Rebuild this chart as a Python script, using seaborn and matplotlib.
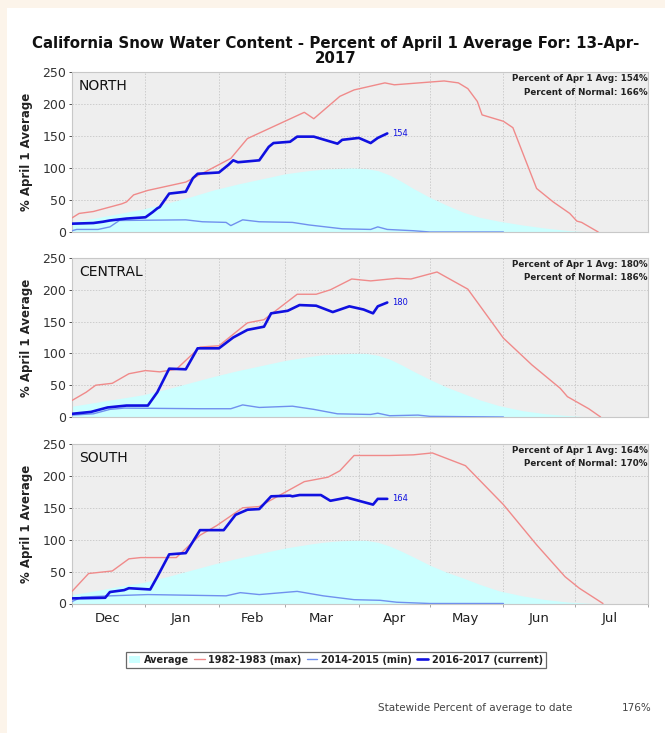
import matplotlib
matplotlib.use("Agg")
import matplotlib.pyplot as plt
from matplotlib.patches import Rectangle, Patch
from matplotlib.lines import Line2D
import pandas as pd
import seaborn as sns

# days counted from 1 Dec 2016, values in % of April 1 average
month_starts = [0, 31, 62, 90, 121, 151, 182, 212, 243]
month_mids = [15, 46, 76, 105, 136, 166, 197, 227]
month_names = ["Dec", "Jan", "Feb", "Mar", "Apr", "May", "Jun", "Jul"]

avg_days = [0, 10, 20, 30, 40, 50, 60, 70, 80, 90, 100, 106, 112, 118, 124,
            129, 134, 139, 144, 151, 158, 165, 172, 180, 190, 200, 210, 220]
north_avg = [16, 22, 29, 36, 45, 55, 66, 75, 83, 91, 96, 98, 99, 100, 99,
             96, 89, 79, 68, 54, 42, 31, 23, 17, 11, 6, 2, 0]
central_avg = [17, 23, 29, 35, 44, 54, 64, 73, 81, 89, 95, 98, 99, 100, 100,
               97, 91, 82, 72, 59, 47, 37, 27, 18, 10, 5, 2, 0]
south_avg = [14, 20, 27, 33, 42, 52, 62, 71, 79, 87, 93, 96, 98, 99, 99,
             96, 90, 82, 73, 60, 49, 40, 30, 20, 12, 6, 2, 0]

# 1982-1983 (max)
north_max_days = [0, 3, 9, 21, 23, 26, 32, 48, 67, 74, 98, 102, 113, 119, 132,
                  136, 157, 163, 167, 171, 173, 182, 186, 190, 196, 203, 210,
                  213, 215, 222]
north_max = [22, 29, 32, 44, 47, 58, 65, 78, 115, 146, 187, 177, 212, 222, 233,
             230, 236, 233, 224, 204, 183, 173, 163, 125, 68, 47, 29, 17, 15, 0]
central_max_days = [0, 6, 10, 17, 24, 31, 37, 44, 54, 62, 74, 81, 95, 103, 109,
                    118, 126, 137, 143, 154, 167, 182, 194, 206, 209, 218, 223]
central_max = [26, 39, 50, 53, 68, 73, 71, 75, 110, 112, 148, 153, 193, 193, 200,
               217, 214, 218, 217, 228, 201, 124, 82, 45, 32, 13, 0]
south_max_days = [0, 7, 17, 24, 29, 44, 54, 61, 72, 79, 98, 108, 113, 119, 134,
                  144, 152, 166, 182, 196, 208, 214, 224]
south_max = [19, 47, 51, 70, 72, 72, 107, 122, 150, 152, 191, 198, 208, 232, 232,
             233, 236, 216, 155, 92, 42, 24, 0]

# 2014-2015 (min)
north_min_days = [0, 2, 11, 16, 20, 48, 55, 65, 67, 72, 79, 93, 100, 107, 114,
                  126, 129, 133, 144, 151, 182]
north_min = [2, 4, 4, 8, 18, 19, 16, 15, 10, 19, 16, 15, 11, 8, 5, 4, 8, 4, 2, 0, 0]
central_min_days = [0, 9, 16, 22, 54, 67, 72, 79, 93, 102, 112, 126, 129, 134,
                    146, 151, 182]
central_min = [3, 5, 12, 14, 13, 13, 19, 15, 17, 12, 5, 4, 6, 2, 3, 1, 0]
south_min_days = [0, 4, 16, 32, 65, 71, 79, 95, 106, 119, 130, 137, 151, 182]
south_min = [3, 10, 12, 14, 12, 17, 14, 19, 12, 6, 5, 2, 0, 0]

# 2016-2017 (current)
north_cur_days = [0, 9, 13, 16, 23, 31, 34, 36, 37, 41, 48, 51, 53, 62, 66, 68,
                  70, 79, 83, 85, 92, 95, 102, 112, 114, 121, 126, 129, 133]
north_cur = [13, 14, 16, 18, 21, 23, 31, 37, 39, 60, 63, 84, 91, 93, 105, 112,
             109, 112, 133, 139, 141, 149, 149, 138, 144, 147, 139, 147, 154]
central_cur_days = [0, 8, 15, 23, 32, 36, 41, 48, 53, 62, 68, 74, 81, 84, 91,
                    96, 103, 110, 117, 123, 127, 129, 133]
central_cur = [5, 8, 15, 18, 18, 39, 76, 75, 108, 108, 125, 137, 142, 163, 167,
               176, 175, 165, 174, 169, 163, 174, 180]
south_cur_days = [0, 14, 16, 22, 24, 33, 36, 41, 48, 54, 64, 69, 74, 79, 84,
                  92, 93, 96, 105, 109, 116, 127, 129, 133]
south_cur = [8, 9, 18, 21, 24, 22, 42, 77, 79, 115, 115, 139, 147, 148, 168,
             169, 168, 170, 170, 161, 166, 155, 164, 164]

regions = ["NORTH", "CENTRAL", "SOUTH"]
apr1_pct = [154, 180, 164]
normal_pct = [166, 186, 170]

avg_sets = [north_avg, central_avg, south_avg]
max_sets = [(north_max_days, north_max), (central_max_days, central_max),
            (south_max_days, south_max)]
min_sets = [(north_min_days, north_min), (central_min_days, central_min),
            (south_min_days, south_min)]
cur_sets = [(north_cur_days, north_cur), (central_cur_days, central_cur),
            (south_cur_days, south_cur)]

sns.set_style("white")
plt.rcParams['font.family'] = ['DejaVu Sans']

c_avg = "#ccffff"
c_max = "#f08a8a"
c_min = "#7090ee"
c_cur = "#1010e0"

fig = plt.figure(figsize=(6.65, 7.33), dpi=100, facecolor="#fcf4ea")
fig.patches.append(Rectangle((7 / 665, 0), 1, 1 - 8 / 733, transform=fig.transFigure,
                             facecolor="white", edgecolor="none", zorder=-10))

W, H = 665, 733
tops = [72, 258, 444]
bottoms = [232, 417, 603.5]

for i, region in enumerate(regions):
    ax = fig.add_axes([72 / W, 1 - bottoms[i] / H, 576 / W, (bottoms[i] - tops[i]) / H])
    ax.set_facecolor("#eeeeee")

    avg_df = pd.DataFrame({"day": avg_days, "pct": avg_sets[i]})
    ax.fill_between(avg_df["day"], 0, avg_df["pct"], color=c_avg, lw=0, zorder=1)

    d, v = max_sets[i]
    sns.lineplot(x=d, y=v, ax=ax, color=c_max, lw=1.0, zorder=3)
    d, v = min_sets[i]
    sns.lineplot(x=d, y=v, ax=ax, color=c_min, lw=1.0, zorder=3)
    d, v = cur_sets[i]
    sns.lineplot(x=d, y=v, ax=ax, color=c_cur, lw=1.9, zorder=4)
    ax.text(d[-1] + 2, v[-1], str(v[-1]), color=c_cur, fontsize=6, va="center")

    ax.set_xlim(0, 243)
    ax.set_ylim(0, 250)
    ax.set_yticks([0, 50, 100, 150, 200, 250])
    ax.set_xticks(month_starts)
    ax.grid(True, color="#cccccc", ls=(0, (1.5, 1.5)), lw=0.7, zorder=0)
    ax.set_axisbelow(True)
    ax.tick_params(axis="y", labelsize=9, colors="#333333", length=2, width=0.6,
                   left=True, pad=2)
    if i < 2:
        ax.tick_params(axis="x", bottom=False, labelbottom=False)
    else:
        ax.set_xticklabels([])
        ax.tick_params(axis="x", bottom=True, length=2, width=0.6, color="#999999")
        ax.set_xticks(month_mids, minor=True)
        ax.set_xticklabels(month_names, minor=True)
        ax.tick_params(axis="x", which="minor", length=0, labelsize=9.5,
                       colors="#222222", pad=6)
    for s in ax.spines.values():
        s.set_color("#c8c8c8")
        s.set_linewidth(0.8)

    ax.set_ylabel("% April 1 Average", fontsize=8.5, fontweight="bold", color="#222222")
    ax.yaxis.set_label_coords(-39 / 576, 0.5)
    ax.set_xlabel("")

    ax.text(0.012, 0.955, region, transform=ax.transAxes, fontsize=10,
            va="top", ha="left", color="#111111")
    ax.text(0.999, 0.962, f"Percent of Apr 1 Avg: {apr1_pct[i]}%", transform=ax.transAxes,
            fontsize=6.3, fontweight="bold", ha="right", va="center", color="#222222")
    ax.text(0.999, 0.875, f"Percent of Normal: {normal_pct[i]}%", transform=ax.transAxes,
            fontsize=6.3, fontweight="bold", ha="right", va="center", color="#222222")

fig.text(336 / W, 1 - 51 / H,
         "California Snow Water Content - Percent of April 1 Average For: 13-Apr-\n2017",
         ha="center", va="center", fontsize=10.8, fontweight="bold", color="#111111",
         linespacing=1.05)

handles = [Patch(facecolor=c_avg, edgecolor="none"),
           Line2D([], [], color=c_max, lw=1.0),
           Line2D([], [], color=c_min, lw=1.0),
           Line2D([], [], color=c_cur, lw=1.9)]
labels = ["Average", "1982-1983 (max)", "2014-2015 (min)", "2016-2017 (current)"]
leg = fig.legend(handles, labels, loc="center", bbox_to_anchor=(336 / W, 1 - 660 / H),
                 ncol=4, prop={"size": 7, "weight": "bold"}, frameon=True, fancybox=False,
                 handlelength=1.1, handleheight=0.8, handletextpad=0.4,
                 columnspacing=0.5, borderpad=0.35, borderaxespad=0)
leg.get_frame().set_edgecolor("#444444")
leg.get_frame().set_linewidth(0.9)
for t in leg.get_texts():
    t.set_color("#222222")

fig.text(378 / W, 1 - 708 / H, "Statewide Percent of average to date",
         fontsize=7.5, color="#444444", ha="left", va="center")
fig.text(652 / W, 1 - 708 / H, "176%", fontsize=7.5, color="#444444",
         ha="right", va="center")

fig.savefig("out.png", dpi=100, facecolor=fig.get_facecolor())
